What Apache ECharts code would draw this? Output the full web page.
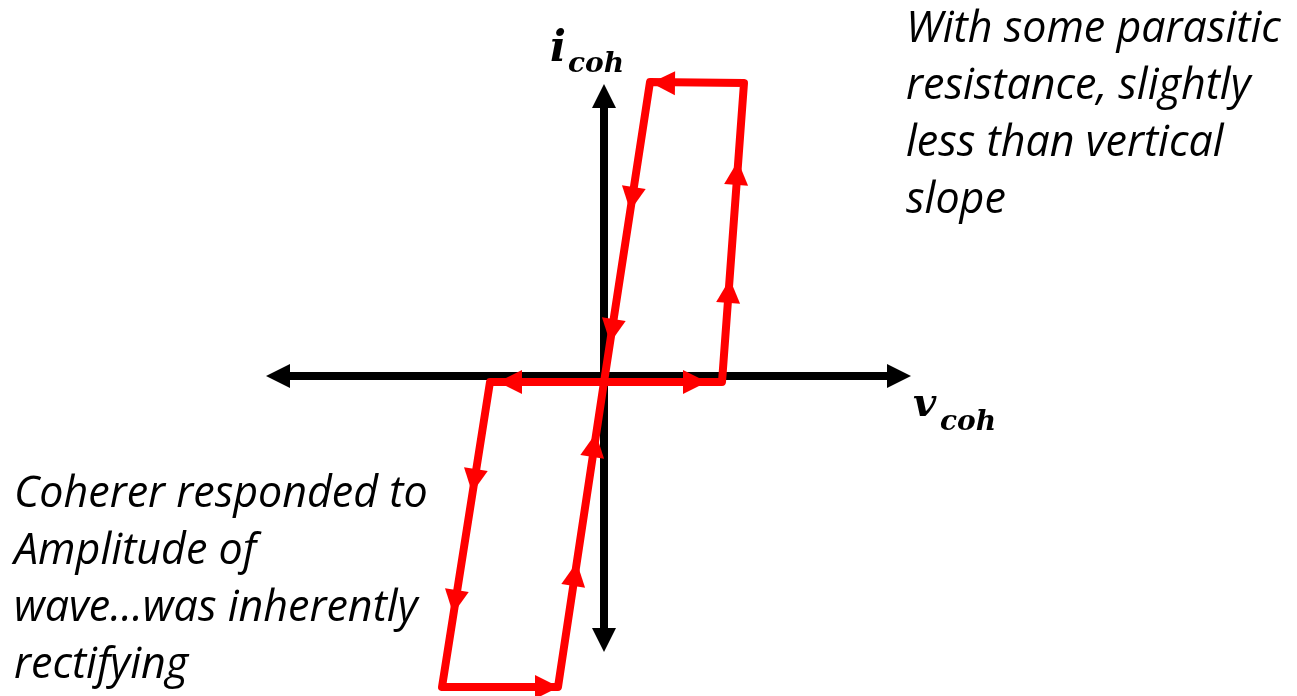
<!DOCTYPE html>
<html>
<head>
<meta charset="utf-8">
<script src="https://cdn.jsdelivr.net/npm/echarts@6/dist/echarts.min.js"></script>
<style>
  html, body { margin: 0; padding: 0; background: #fff; }
  #chart { width: 1297px; height: 696px; }
</style>
</head>
<body>
<div id="chart"></div>
<script>
// loop corners (v, i), 1 unit = 100px
const loopV = [0, 1.18, 1.40, 0.46, 0, -1.14, -1.62, -0.46, 0];
const loopI = [-0.06, -0.06, 2.93, 2.94, -0.06, -0.06, -3.11, -3.11, -0.06];

// direction arrows on the loop: centre and which segment they ride on
const arrowV = [0.59, 0.28, 0.08, 1.33, 1.25, 0.91, -0.94, -1.30, -1.49, -0.10, -0.29, -0.57];
const arrowI = [2.93, 1.77, 0.45, 2.03, 0.85, -0.06, -0.06, -1.05, -2.26, -0.69, -1.98, -3.11];
const arrowSeg = [2, 3, 3, 1, 1, 0, 4, 5, 5, 7, 7, 6];

const noteRight = ['With some parasitic', 'resistance, slightly', 'less than vertical', 'slope'];
const noteLeft = ['Coherer responded to', 'Amplitude of', 'wave\u2026was inherently', 'rectifying'];

const red = '#ff0000';
const mathFont = '"DejaVu Serif", serif';

const arrowData = arrowV.map((v, k) => {
  const s = arrowSeg[k];
  const dv = loopV[s + 1] - loopV[s];
  const di = loopI[s + 1] - loopI[s];
  return {
    value: [v, arrowI[k]],
    symbolRotate: (Math.atan2(di, dv) * 180) / Math.PI - 90,
  };
});

const axisBase = {
  type: 'value',
  axisTick: { show: false },
  axisLabel: { show: false },
  splitLine: { show: false },
  axisLine: {
    show: true,
    onZero: true,
    symbol: ['triangle', 'triangle'],
    symbolSize: [24, 24],
    lineStyle: { color: '#000', width: 8 },
  },
};

const noteStyle = {
  fontFamily: '"Open Sans"',
  fontStyle: 'italic',
  fontSize: 43,
  lineHeight: 57,
  fill: '#000',
  verticalAlign: 'top',
};
const mathStyle = {
  fontFamily: mathFont,
  fontStyle: 'italic',
  fontWeight: 'bold',
  fill: '#000',
  verticalAlign: 'middle',
};

const chart = echarts.init(document.getElementById('chart'));
chart.setOption({
  animation: false,
  grid: { left: 278, right: 398, top: 96, bottom: 56 },
  xAxis: { ...axisBase, min: -3.26, max: 2.95 },
  yAxis: { ...axisBase, min: -2.64, max: 2.8 },
  series: [
    {
      type: 'line',
      data: loopV.map((v, k) => [v, loopI[k]]),
      symbol: 'none',
      clip: false,
      lineStyle: { color: red, width: 8, cap: 'round', join: 'round' },
      z: 3,
    },
    {
      type: 'scatter',
      data: arrowData,
      symbol: 'triangle',
      symbolSize: [24, 24],
      clip: false,
      itemStyle: { color: red, opacity: 1 },
      z: 4,
    },
  ],
  graphic: [
    { type: 'text', x: 906, y: 1, style: { ...noteStyle, text: noteRight.join('\n') } },
    { type: 'text', x: 14, y: 466, style: { ...noteStyle, text: noteLeft.join('\n') } },
    { type: 'text', x: 550, y: 50, style: { ...mathStyle, text: 'i', fontSize: 42 } },
    { type: 'text', x: 568, y: 65, style: { ...mathStyle, text: 'coh', fontSize: 28 } },
    { type: 'text', x: 913, y: 406, style: { ...mathStyle, text: 'v', fontSize: 40 } },
    { type: 'text', x: 940, y: 423, style: { ...mathStyle, text: 'coh', fontSize: 28 } },
  ],
});
</script>
</body>
</html>
